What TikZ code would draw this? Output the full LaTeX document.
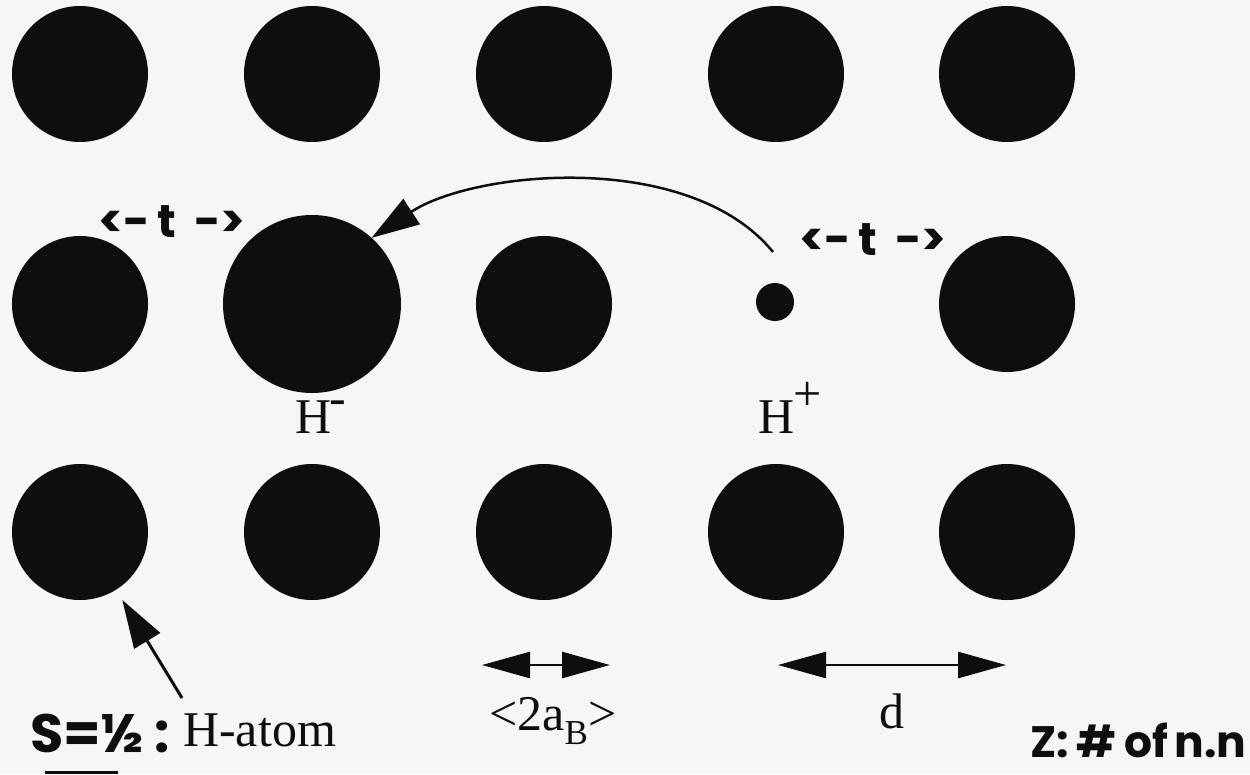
\documentclass[tikz,border=0pt]{standalone}
\usepackage{fontspec}
\setmainfont{Liberation Serif}
\newfontfamily\mano{Poppins}
\usetikzlibrary{arrows.meta}

\begin{document}
\begin{tikzpicture}[x=1pt, y=-1pt,
  atomo/.style={circle, fill=inchiostro, inner sep=0pt, outer sep=0pt, minimum size=136pt},
  etichetta/.style={inner sep=0pt, text=inchiostro, font=\fontsize{50}{60}\selectfont},
  scritta/.style={inner sep=0pt, text=inchiostro, font=\mano\bfseries\fontsize{46}{52}\selectfont},
  freccia/.style={draw=inchiostro, line width=3pt, -{Triangle[length=48pt,width=30pt]}},
  quota/.style={draw=inchiostro, line width=2.5pt, {Triangle[length=48pt,width=26pt]}-{Triangle[length=48pt,width=26pt]}}]

% Colori
\definecolor{carta}{HTML}{F6F6F4}
\definecolor{inchiostro}{HTML}{0E0E0E}

% Cornice
\useasboundingbox (0,0) rectangle (1250,774);
\clip (0,0) rectangle (1250,774);
\fill[carta] (0,0) rectangle (1250,774);

% Prima riga
\node[atomo] (a11) at (80,74) {};
\node[atomo] (a12) at (312,74) {};
\node[atomo] (a13) at (544,74) {};
\node[atomo] (a14) at (776,74) {};
\node[atomo] (a15) at (1007,74) {};

% Seconda riga (H- grande, H+ piccolo)
\node[atomo] (a21) at (80,304) {};
\node[atomo, minimum size=178pt] (hm) at (312,304) {};
\node[atomo] (a23) at (544,304) {};
\node[atomo, minimum size=38pt] (hp) at (775,302) {};
\node[atomo] (a25) at (1007,304) {};

% Terza riga
\node[atomo] (a31) at (80,532) {};
\node[atomo] (a32) at (312,532) {};
\node[atomo] (a33) at (544,532) {};
\node[atomo] (a34) at (776,532) {};
\node[atomo] (a35) at (1007,532) {};

% Etichette stampate
\node[etichetta, anchor=base west] (lhm) at (295,433) {H\kern-2pt\raisebox{19pt}{-}};
\node[etichetta, anchor=base west] (lhp) at (758,433) {H\kern-1pt\raisebox{23pt}{+}};
\node[etichetta, anchor=base west] (latomo) at (183,746) {H-atom};
\node[etichetta, anchor=base] (lab) at (553,730) {<2a\textsubscript{B}>};
\node[etichetta, anchor=base] (ld) at (892,728) {d};

% Scritte a mano
\node[scritta] (tsx) at (172,222) {<-\,t\, ->};
\node[scritta] (tdx) at (873,240) {<-\,t\, ->};
\node[scritta, anchor=base west, font=\mano\bfseries\fontsize{54}{60}\selectfont] (spin) at (30,752) {S=½\,:};
\draw[draw=inchiostro, line width=3pt] ([shift={(15,20)}]spin.base west) -- ([shift={(88,20)}]spin.base west);
\node[scritta, anchor=base west, font=\mano\bfseries\fontsize{44}{50}\selectfont] (lz) at (1030,757) {Z:\hspace{8pt}\#\hspace{8pt}of\hspace{6pt}n.n};

% Salto dell'elettrone
\coordinate (partenza) at (773,252);
\draw[freccia, line width=2.5pt] (partenza) .. controls (690,150) and (475,170) .. (hm.48);

% Freccia verso l'atomo
\coordinate (coda) at (182,698);
\draw[freccia, shorten >=12pt] (coda) -- (a31.-58);

% Quote
\coordinate (ab1) at (482,665);
\coordinate (ab2) at (610,665);
\draw[quota] (ab1) -- (ab2);
\coordinate (d1) at (778,665);
\coordinate (d2) at (1006,665);
\draw[quota] (d1) -- (d2);

\end{tikzpicture}
\end{document}
